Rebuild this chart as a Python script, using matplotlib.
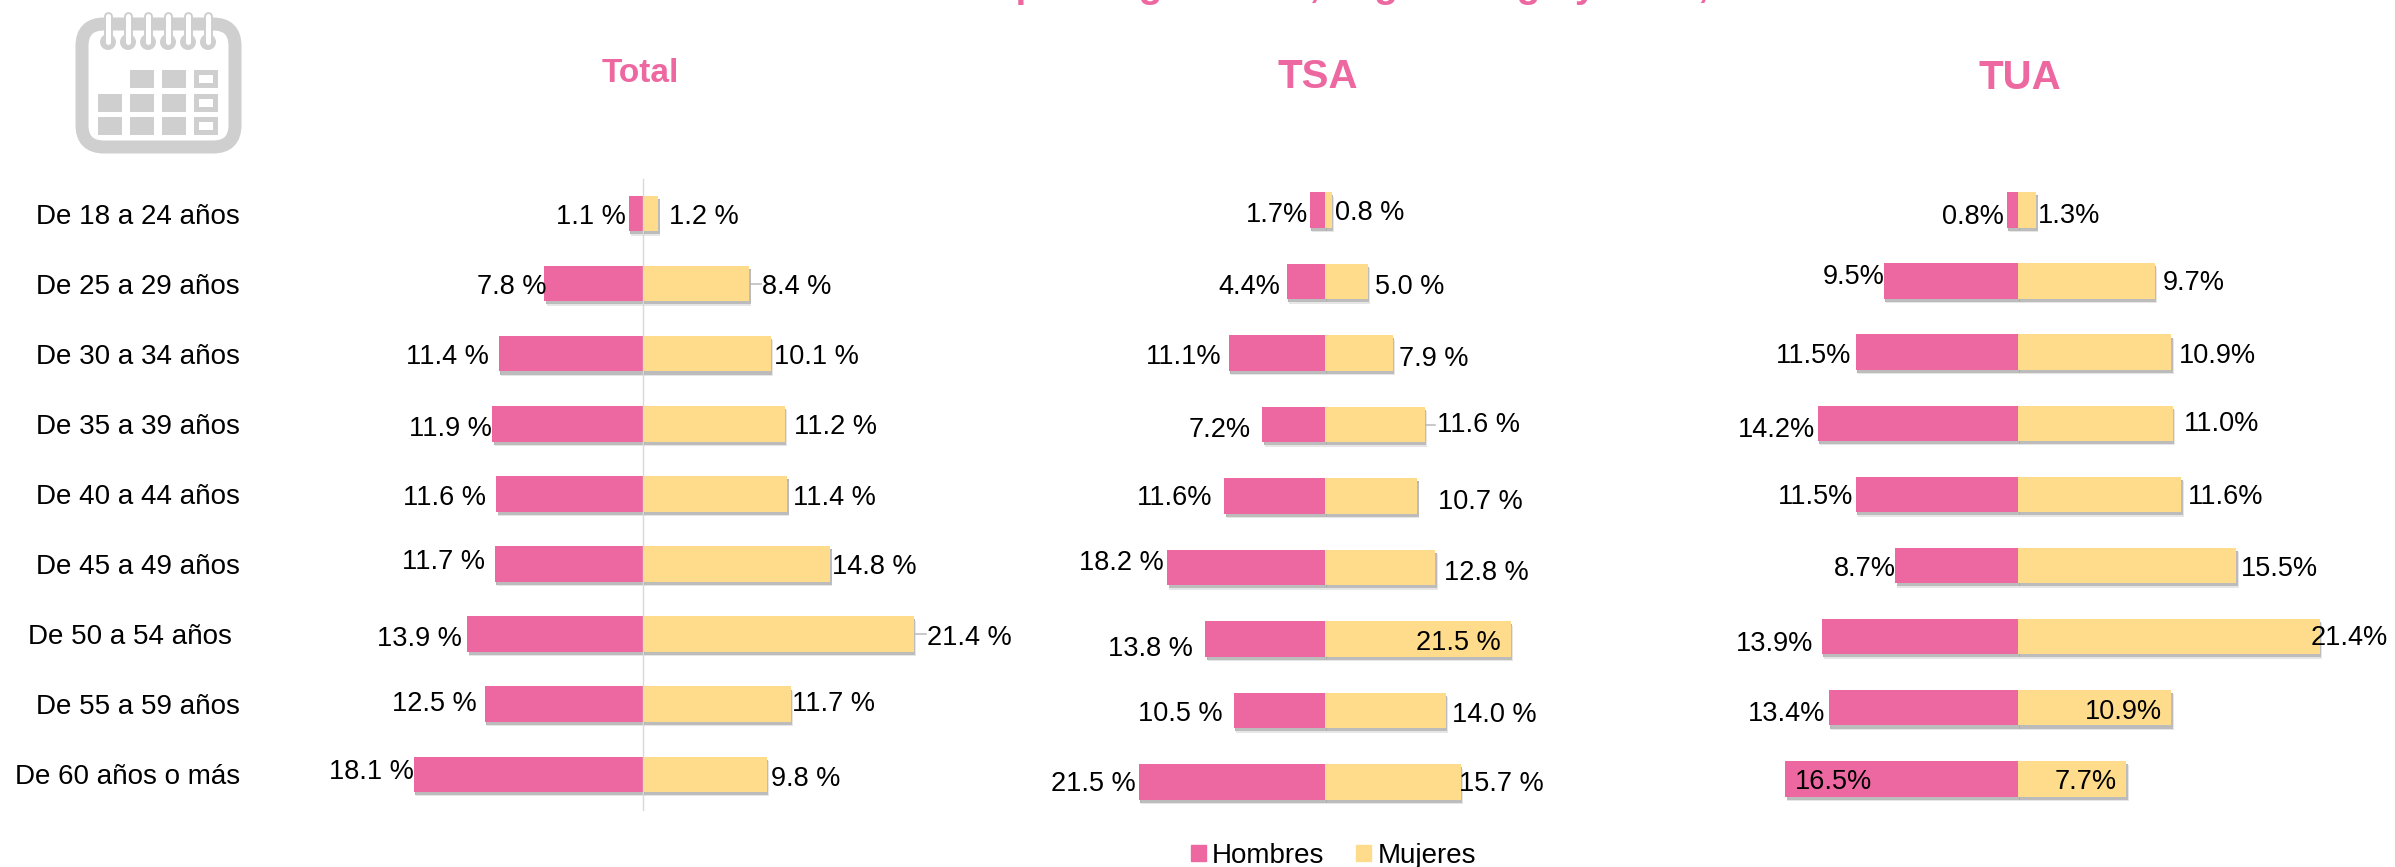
"""
Pyramid bars by age and sex: Total, TSA and TUA panels.
"""
import matplotlib
matplotlib.use('Agg')
import matplotlib.pyplot as plt
import matplotlib.patheffects as pe
from matplotlib.patches import FancyBboxPatch, Rectangle, Circle, Patch

plt.rcParams['font.family'] = ['Liberation Sans', 'DejaVu Sans']

W, H = 2395, 867
DPI = 100
PINK = '#ED68A1'
YELLOW = '#FEDC8C'
ICON = '#CFCFCF'
TEXT_SHIFT = 3  # text sits a little lower than va='center' puts it

age_groups = ['De 18 a 24 años', 'De 25 a 29 años', 'De 30 a 34 años',
              'De 35 a 39 años', 'De 40 a 44 años', 'De 45 a 49 años',
              'De 50 a 54 años ', 'De 55 a 59 años', 'De 60 años o más']

# Values
men_total = [1.1, 7.8, 11.4, 11.9, 11.6, 11.7, 13.9, 12.5, 18.1]
women_total = [1.2, 8.4, 10.1, 11.2, 11.4, 14.8, 21.4, 11.7, 9.8]
men_tsa = [1.7, 4.4, 11.1, 7.2, 11.6, 18.2, 13.8, 10.5, 21.5]
women_tsa = [0.8, 5.0, 7.9, 11.6, 10.7, 12.8, 21.5, 14.0, 15.7]
men_tua = [0.8, 9.5, 11.5, 14.2, 11.5, 8.7, 13.9, 13.4, 16.5]
women_tua = [1.3, 9.7, 10.9, 11.0, 11.6, 15.5, 21.4, 10.9, 7.7]

# Label suffix per row: the source mixes "x %" and "x%"
suffix_men_tsa = ['%', '%', '%', '%', '%', ' %', ' %', ' %', ' %']

# Label layout in pixels: gap from bar end, vertical shift from row centre
gap_men_total = [3, -2, 10, 1, 10, 10, 5, 8, 0]
dy_men_total = [0, 0, 0, 2, 1, -5, 2, -3, -5]
gap_women_total = [11, 13, 3, 9, 6, 2, 13, 1, 4]
dy_women_total = [0, 0, 0, 0, 1, 0, 1, -3, 2]

gap_men_tsa = [2, 6, 7, 12, 12, 4, 12, 11, 3]
dy_men_tsa = [2, 3, 1, 2, -1, -7, 7, 0, -1]
gap_women_tsa = [3, 7, 6, 12, 21, 9, -95, 6, -2]
dy_women_tsa = [0, 3, 3, -3, 3, 2, 1, 1, -1]

gap_men_tua = [3, -1, 4, 2, 2, -1, 9, 4, -87]
dy_men_tua = [4, -7, 1, 4, 0, 0, 4, 3, 0]
gap_women_tua = [2, 8, 7, 11, 7, 5, -9, -87, -72]
dy_women_tua = [3, -1, 1, -2, 0, 0, -2, 1, 0]

panels = [
    dict(men=men_total, women=women_total, center=643, scale=12.65,
         y0=213.5, step=70.1, fmt_m=[' %'] * 9, fmt_w=[' %'] * 9,
         gap_m=gap_men_total, dy_m=dy_men_total,
         gap_w=gap_women_total, dy_w=dy_women_total, leaders={1: 9, 6: 9}),
    dict(men=men_tsa, women=women_tsa, center=1324.7, scale=8.65,
         y0=210, step=71.5, fmt_m=suffix_men_tsa, fmt_w=[' %'] * 9,
         gap_m=gap_men_tsa, dy_m=dy_men_tsa,
         gap_w=gap_women_tsa, dy_w=dy_women_tsa, leaders={3: 7}),
    dict(men=men_tua, women=women_tua, center=2017.8, scale=14.1,
         y0=210, step=71.1, fmt_m=['%'] * 9, fmt_w=['%'] * 9,
         gap_m=gap_men_tua, dy_m=dy_men_tua,
         gap_w=gap_women_tua, dy_w=dy_women_tua, leaders={}),
]


def shadow():
    return [pe.SimplePatchShadow(offset=(1.0, -2.2), shadow_rgbFace='#A0A0A0', alpha=0.8),
            pe.SimplePatchShadow(offset=(1.6, -3.2), shadow_rgbFace='#C8C8C8', alpha=0.45),
            pe.Normal()]


def draw_panel(fig, p):
    # Axes span the whole figure height so rows land on the right pixels
    x0 = p['center'] - 340
    ax = fig.add_axes([x0 / W, 0, 680 / W, 1])
    ax.patch.set_alpha(0)
    ax.set_xlim(-340 / p['scale'], 340 / p['scale'])
    ax.set_ylim((H - p['y0']) / p['step'], -p['y0'] / p['step'])
    ax.axis('off')

    rows = list(range(len(p['men'])))
    height = 35.5 / p['step']
    men_neg = [-v for v in p['men']]
    bars_m = ax.barh(rows, men_neg, height=height, color=PINK, zorder=3)
    bars_w = ax.barh(rows, p['women'], height=height, color=YELLOW, zorder=4)
    for b in list(bars_m) + list(bars_w):
        b.set_path_effects(shadow())

    for row, length in p['leaders'].items():
        v = p['women'][row]
        ax.plot([v, v + (length + 3) / p['scale']], [row, row], color='#BFBFBF', lw=1.2, zorder=2)

    for i in rows:
        ax.annotate(f"{p['men'][i]:.1f}{p['fmt_m'][i]}", xy=(-p['men'][i], i),
                    xytext=(-p['gap_m'][i] * 0.72, -(p['dy_m'][i] + TEXT_SHIFT) * 0.72),
                    textcoords='offset points', ha='right', va='center',
                    fontsize=19.5, color='black', zorder=6)
        ax.annotate(f"{p['women'][i]:.1f}{p['fmt_w'][i]}", xy=(p['women'][i], i),
                    xytext=(p['gap_w'][i] * 0.72, -(p['dy_w'][i] + TEXT_SHIFT) * 0.72),
                    textcoords='offset points', ha='left', va='center',
                    fontsize=19.5, color='black', zorder=6)
    return ax


def draw_calendar(ov):
    # Grey calendar icon, in pixel coordinates
    ov.add_patch(FancyBboxPatch((82, 24), 153, 123, boxstyle='round,pad=0,rounding_size=22',
                                fc='white', ec=ICON, lw=13 * 0.72, zorder=1))
    for x in [108, 128, 148, 168, 188, 208]:
        ov.add_patch(Circle((x, 42), 8, fc=ICON, ec='none', zorder=2))
        ov.plot([x, x], [16, 42], color=ICON, lw=9 * 0.72, solid_capstyle='round', zorder=2)
        ov.plot([x, x], [16, 42], color='white', lw=5 * 0.72, solid_capstyle='round', zorder=3)
    cols = [98, 130, 162, 194]
    rows = [70, 94, 117]
    for r, y in enumerate(rows):
        for c, x in enumerate(cols):
            if r == 0 and c == 0:
                continue
            ov.add_patch(Rectangle((x, y), 24, 17.5, fc=ICON, ec='none', zorder=2))
            if c == 3:
                ov.add_patch(Rectangle((x + 5, y + 4.5), 14, 8.5, fc='white', ec='none', zorder=3))


fig = plt.figure(figsize=(W / DPI, H / DPI), dpi=DPI, facecolor='white')

for p in panels:
    draw_panel(fig, p)
handles = [Patch(color=PINK, label='Hombres'), Patch(color=YELLOW, label='Mujeres')]

# Full-figure overlay for icon, headings and row labels
ov = fig.add_axes([0, 0, 1, 1], zorder=10)
ov.patch.set_alpha(0)
ov.set_xlim(0, W)
ov.set_ylim(H, 0)
ov.axis('off')

draw_calendar(ov)

# Central axis of the Total panel
ov.plot([643, 643], [179, 810], color='#D9D9D9', lw=1.0, zorder=1)

# Row labels follow the Total panel rows
for i, label in enumerate(age_groups):
    ov.text(240, panels[0]['y0'] + i * panels[0]['step'] + TEXT_SHIFT, label,
            ha='right', va='center', fontsize=20, color='black')

ov.text(640, 73, 'Total', ha='center', va='center', fontsize=24, fontweight='bold', color=PINK)
ov.text(1318, 77, 'TSA', ha='center', va='center', fontsize=29, fontweight='bold', color=PINK)
ov.text(2020, 78, 'TUA', ha='center', va='center', fontsize=29, fontweight='bold', color=PINK)

# Main title is cut by the top edge of the picture, only the descenders show
fig.text(927 / W, 1 + 3 / H, 'Cuerpos según sexo, según rango y edad,', ha='left', va='baseline',
         fontsize=28, fontweight='bold', color=PINK)

fig.legend(handles=handles, loc='center left', bbox_to_anchor=(1191 / W, 1 - 856 / H),
           ncol=2, frameon=False, fontsize=20, handlelength=0.54, handleheight=0.54,
           handletextpad=0.22, columnspacing=1.15, borderpad=0, borderaxespad=0)

fig.savefig('out.png', dpi=DPI)
